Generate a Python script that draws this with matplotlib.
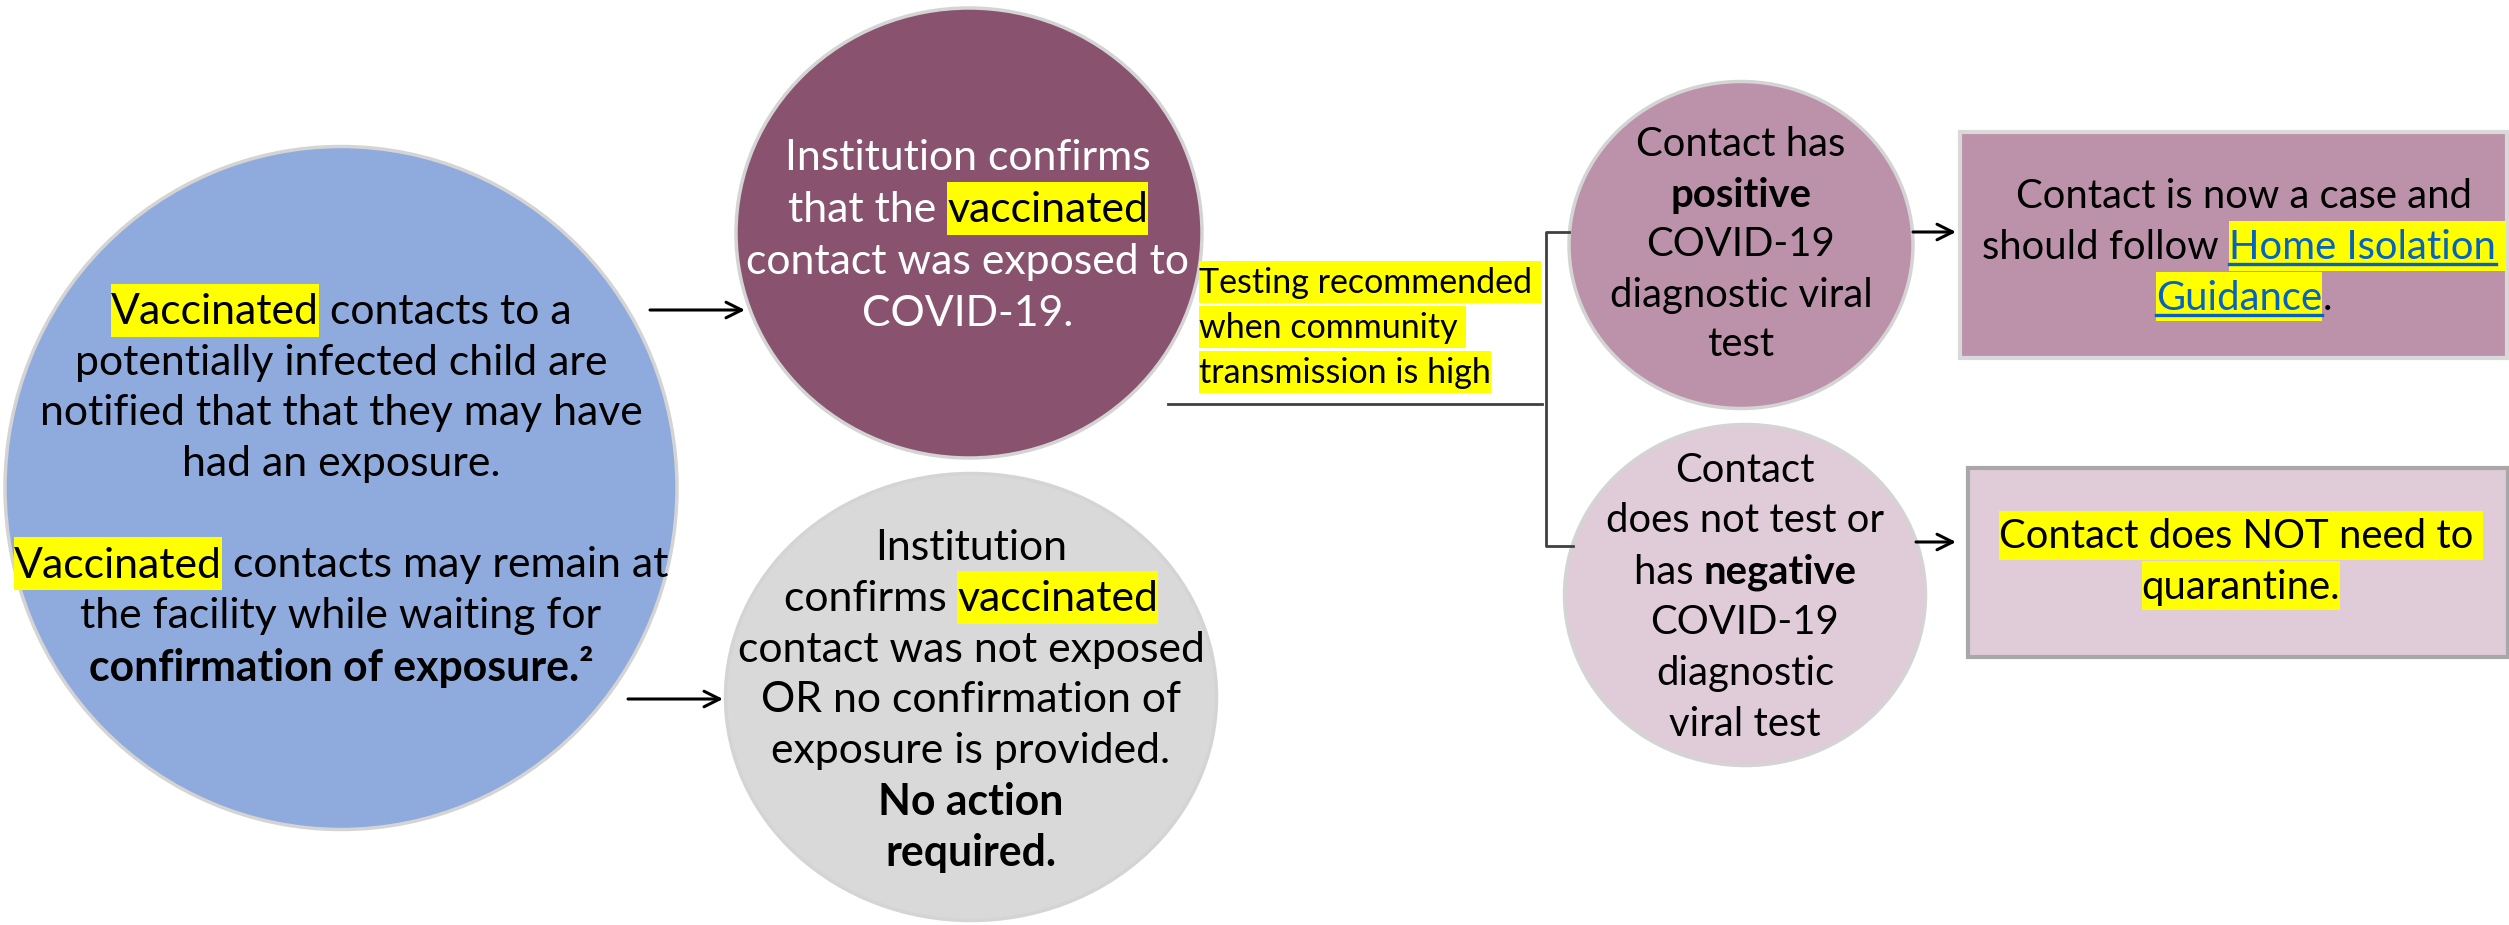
import matplotlib
matplotlib.use("Agg")
import matplotlib.pyplot as plt
from matplotlib.patches import Ellipse, Rectangle

plt.rcParams['font.family'] = ['Lato', 'DejaVu Sans']

# text of each node, as (segment, style) pieces per line
# style letters: h = yellow highlight, b = bold, l = hyperlink
blue_text = [
    [("Vaccinated", "h"), (" contacts to a", "")],
    [("potentially infected child are", "")],
    [("notified that that they may have", "")],
    [("had an exposure.", "")],
    [],
    [("Vaccinated", "h"), (" contacts may remain at", "")],
    [("the facility while waiting for", "")],
    [("confirmation of exposure.²", "b")],
]
exposed_text = [
    [("Institution confirms", "")],
    [("that the ", ""), ("vaccinated", "h")],
    [("contact was exposed to", "")],
    [("COVID-19.", "")],
]
not_exposed_text = [
    [("Institution", "")],
    [("confirms ", ""), ("vaccinated", "h")],
    [("contact was not exposed", "")],
    [("OR no confirmation of", "")],
    [("exposure is provided.", "")],
    [("No action", "b")],
    [("required.", "b")],
]
testing_text = [
    [("Testing recommended ", "h")],
    [("when community ", "h")],
    [("transmission is high", "h")],
]
positive_text = [
    [("Contact has", "")],
    [("positive", "b")],
    [("COVID-19", "")],
    [("diagnostic viral", "")],
    [("test", "")],
]
negative_text = [
    [("Contact", "")],
    [("does not test or", "")],
    [("has ", ""), ("negative", "b")],
    [("COVID-19", "")],
    [("diagnostic", "")],
    [("viral test", "")],
]
case_text = [
    [("Contact is now a case and", "")],
    [("should follow ", ""), ("Home Isolation", "hl"), (" ", "h")],
    [("Guidance", "hl"), (".", "")],
]
no_quarantine_text = [
    [("Contact does NOT need to ", "h")],
    [("quarantine.", "h")],
]

W, H = 2509, 925
fig = plt.figure(figsize=(W / 100, H / 100), dpi=100)
ax = fig.add_axes([0, 0, 1, 1])
ax.set_xlim(0, W)
ax.set_ylim(H, 0)
ax.axis('off')
renderer = fig.canvas.get_renderer()


def seg_width(s, size, bold):
    wt = 'bold' if bold else 'normal'
    t = ax.text(0, 0, '|' + s + '|', fontsize=size, fontweight=wt)
    a = t.get_window_extent(renderer).width
    t.set_text('||')
    b = t.get_window_extent(renderer).width
    t.remove()
    return a - b


def draw_lines(lines, x, y0, step, size, color, align='center'):
    em = size * 100 / 72
    for i, line in enumerate(lines):
        y = y0 + i * step
        widths = [seg_width(s, size, 'b' in st) for s, st in line]
        left = x - sum(widths) / 2 if align == 'center' else x
        for (s, st), w in zip(line, widths):
            c = color
            if 'h' in st:
                ax.add_patch(Rectangle((left, y - 0.66 * em), w, 1.24 * em,
                                       fc='#FFFF00', ec='none', zorder=3))
                c = 'black'
            if 'l' in st:
                c = '#0563C1'
                ax.plot([left, left + w], [y + 0.42 * em] * 2, color=c, lw=2.4, zorder=5)
            ax.text(left, y, s, fontsize=size, fontweight='bold' if 'b' in st else 'normal',
                    color=c, ha='left', va='center', zorder=4)
            left += w


def oval(cx, cy, w, h, fc):
    ax.add_patch(Ellipse((cx, cy), w, h, fc=fc, ec='#D4D4D4', lw=2.5, zorder=1))


def arrow(x0, x1, y):
    ax.annotate('', xy=(x1, y), xytext=(x0, y),
                arrowprops=dict(arrowstyle='->', lw=2.2, color='black',
                                mutation_scale=28, shrinkA=0, shrinkB=0))


fs = 30.8
fs_right = 28.8

# left and middle column
oval(341, 488, 672, 683, '#8FAADC')
draw_lines(blue_text, 341, 312, 50.7, fs, 'black')

oval(969, 233, 466, 450, '#89536F')
draw_lines(exposed_text, 968, 158, 52, fs, 'white')

oval(971, 697, 491, 447, '#D9D9D9')
draw_lines(not_exposed_text, 971, 548, 50.8, fs, 'black')

arrow(650, 745, 310)
arrow(628, 723, 699)

# testing note and bracket
draw_lines(testing_text, 1199, 283, 45, 24.5, 'black', align='left')
ax.plot([1168, 1542], [404, 404], color='#404040', lw=2)
ax.plot([1569, 1546, 1546, 1573], [232, 232, 546, 546], color='#404040', lw=2)

# right column
oval(1741, 245, 344, 327, '#BC92AA')
draw_lines(positive_text, 1741, 145, 50, fs_right, 'black')

oval(1745, 595, 361, 341, '#E0CBD8')
draw_lines(negative_text, 1745, 470, 51, fs_right, 'black')

ax.add_patch(Rectangle((1960, 132), 547, 226, fc='#BC92AA', ec='#D9D9D9', lw=3, zorder=1))
draw_lines(case_text, 2244, 197, 50.5, fs_right, 'black')

ax.add_patch(Rectangle((1968, 468), 540, 189, fc='#E0CBD8', ec='#A8A8A8', lw=3, zorder=1))
draw_lines(no_quarantine_text, 2241, 537, 50, fs_right, 'black')

arrow(1913, 1956, 232)
arrow(1916, 1956, 542)

fig.savefig('out.png', dpi=100)
